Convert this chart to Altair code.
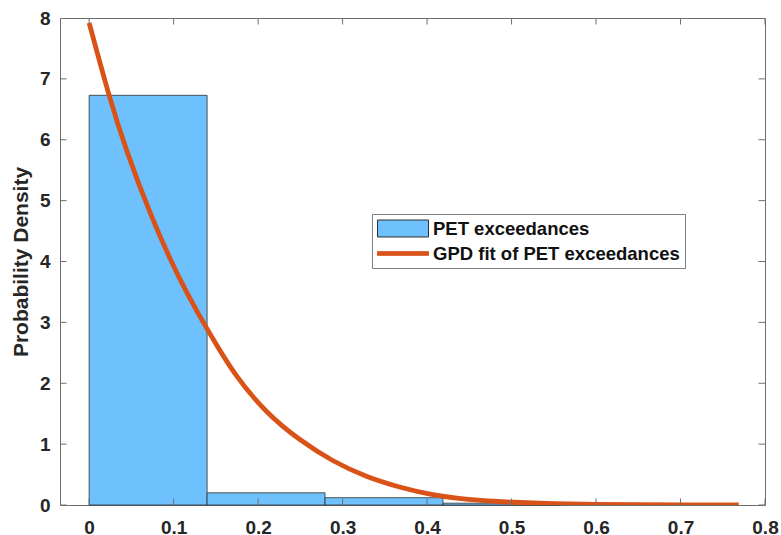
import altair as alt
import pandas as pd

# ---- data ----
bin_left = [0.0, 0.1396, 0.2792, 0.4188]
bin_right = [0.1396, 0.2792, 0.4188, 0.5584]
bin_density = [6.73, 0.20, 0.12, 0.03]

fit_x = [0.0, 0.0231, 0.0429, 0.0724, 0.1078, 0.1334, 0.144, 0.1707, 0.2101,
         0.2495, 0.2888, 0.3282, 0.3675, 0.4068, 0.446, 0.505, 0.55, 0.60,
         0.65, 0.70, 0.769]
fit_y = [7.92, 6.73, 5.86, 4.76, 3.67, 3.04, 2.79, 2.16, 1.50,
         1.06, 0.71, 0.46, 0.29, 0.16, 0.09, 0.04, 0.02, 0.01,
         0.005, 0.002, 0.001]

x_ticks = [0, 0.1, 0.2, 0.3, 0.4, 0.5, 0.6, 0.7, 0.8]
y_ticks = [0, 1, 2, 3, 4, 5, 6, 7, 8]
legend_labels = ["PET exceedances", "GPD fit of PET exceedances"]

X_MIN, X_MAX = -0.0345, 0.8
Y_MIN, Y_MAX = 0, 8

# ---- styles ----
FONT = "Liberation Sans"
BAR = "#6ec1fd"
EDGE = "#2e2e2e"
LINE = "#d95319"
AX = "#6e6e6e"
TXT = "#262626"

bars_df = pd.DataFrame({"left": bin_left, "right": bin_right, "density": bin_density})
fit_df = pd.DataFrame({"x": fit_x, "y": fit_y})
xt_df = pd.DataFrame({"v": x_ticks})
yt_df = pd.DataFrame({"v": y_ticks})
leg_df = pd.DataFrame({"series": legend_labels})

xscale = alt.Scale(domain=[X_MIN, X_MAX], nice=False, zero=False)
yscale = alt.Scale(domain=[Y_MIN, Y_MAX], nice=False, zero=False)

x_axis = alt.Axis(values=x_ticks, format="~g", ticks=False, domain=False, grid=False,
                  labelPadding=13, title=None, labelFlush=False)
y_axis = alt.Axis(values=y_ticks, format="d", ticks=False, domain=False, grid=False,
                  labelPadding=10, title="Probability Density", titlePadding=8)

bars = alt.Chart(bars_df).mark_rect(fill=BAR, stroke=EDGE, strokeWidth=0.8).encode(
    x=alt.X("left:Q", scale=xscale, axis=x_axis),
    x2="right:Q",
    y=alt.Y("density:Q", scale=yscale, axis=y_axis),
    y2=alt.datum(0),
)

line = alt.Chart(fit_df).mark_line(color=LINE, strokeWidth=4.8, interpolate="basis",
                                   clip=True).encode(
    x=alt.X("x:Q", scale=xscale, axis=x_axis),
    y=alt.Y("y:Q", scale=yscale, axis=y_axis),
)

def xtick_layer(edge):
    return alt.Chart(xt_df).mark_tick(orient="vertical", size=13, thickness=1,
                                      color=AX, clip=True, opacity=1).encode(
        x=alt.X("v:Q", scale=xscale, axis=x_axis),
        y=alt.YDatum(edge, type="quantitative", scale=yscale, axis=y_axis),
    )

def ytick_layer(edge):
    return alt.Chart(yt_df).mark_tick(orient="horizontal", size=13, thickness=1,
                                      color=AX, clip=True, opacity=1).encode(
        y=alt.Y("v:Q", scale=yscale, axis=y_axis),
        x=alt.XDatum(edge, type="quantitative", scale=xscale, axis=x_axis),
    )

# legend: symbol paths scaled by sqrt(symbolSize)/2 = 9 px per unit
BAR_PATH = "M-1,-0.944H4.667V0.944H-1Z"
LINE_PATH = "M-1,-0.2H4.667V0.2H-1Z"

leg = alt.Legend(title=None, orient="none", legendX=312, legendY=196,
                 symbolSize=324, symbolStrokeWidth=1, labelOffset=37,
                 rowPadding=5, padding=5, strokeColor="#7f7f7f", fillColor="white",
                 labelFont=FONT, labelFontSize=18.5, labelFontWeight="bold",
                 labelColor="#111111", labelLimit=400)

legend_layer = alt.Chart(leg_df).transform_filter("false").mark_point(
    filled=True, opacity=1).encode(
    fill=alt.Fill("series:N", scale=alt.Scale(domain=legend_labels, range=[BAR, LINE]), legend=leg),
    stroke=alt.Stroke("series:N", scale=alt.Scale(domain=legend_labels, range=[EDGE, LINE]), legend=leg),
    shape=alt.Shape("series:N", scale=alt.Scale(domain=legend_labels, range=[BAR_PATH, LINE_PATH]), legend=leg),
)

chart = alt.layer(
    bars, line,
    xtick_layer(Y_MIN), xtick_layer(Y_MAX),
    ytick_layer(X_MIN), ytick_layer(X_MAX),
    legend_layer,
).properties(
    width=705, height=487,
    autosize=alt.AutoSizeParams(type="none"),
    padding={"left": 60, "top": 18, "right": 16, "bottom": 30},
    background="white",
).configure_view(
    stroke=AX, strokeWidth=1
).configure_axis(
    labelFont=FONT, labelFontSize=19, labelFontWeight="bold", labelColor=TXT,
    titleFont=FONT, titleFontSize=21, titleFontWeight="bold", titleColor=TXT,
)

chart.save("out.html", embed_options={"renderer": "svg", "actions": False})
